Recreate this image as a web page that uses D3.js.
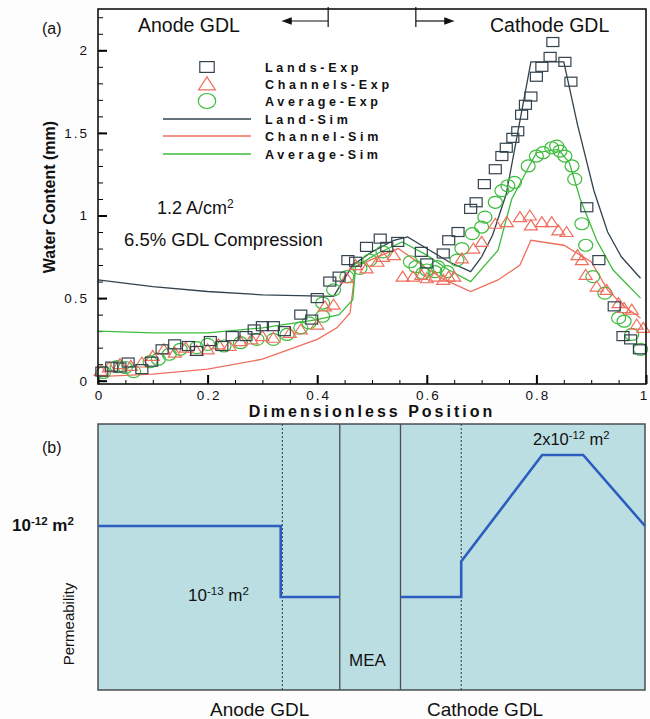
<!DOCTYPE html>
<html>
<head>
<meta charset="utf-8">
<script src="https://cdnjs.cloudflare.com/ajax/libs/d3/7.8.5/d3.min.js"></script>
<style>
  body { margin: 0; background: #fdfdfd; }
  text { font-family: "Liberation Sans", Arial, sans-serif; fill: #111; }
</style>
</head>
<body>
<div id="chart"></div>
<script>
// ---- data, panel (a) : water content vs dimensionless position ----
var landsExp = [[0.007,0.055],[0.025,0.085],[0.04,0.08],[0.055,0.11],[0.08,0.07],[0.098,0.115],
  [0.117,0.19],[0.14,0.22],[0.165,0.21],[0.18,0.18],[0.205,0.24],[0.226,0.21],[0.245,0.27],
  [0.27,0.27],[0.285,0.31],[0.30,0.33],[0.32,0.33],[0.34,0.30],[0.37,0.40],[0.39,0.37],[0.40,0.50],
  [0.423,0.60],[0.44,0.63],[0.456,0.73],[0.47,0.72],[0.49,0.81],[0.515,0.86],[0.527,0.81],
  [0.547,0.84],[0.59,0.78],[0.60,0.71],[0.63,0.77],[0.64,0.85],[0.657,0.90],[0.68,1.04],
  [0.69,1.08],[0.705,1.19],[0.725,1.28],[0.737,1.36],[0.745,1.41],[0.757,1.47],[0.766,1.51],
  [0.773,1.61],[0.78,1.67],[0.79,1.72],[0.80,1.84],[0.81,1.90],[0.825,1.96],[0.83,2.05],
  [0.852,1.93],[0.863,1.81],[0.892,1.05],[0.914,0.73],[0.942,0.45],[0.958,0.27],[0.972,0.25],
  [0.988,0.19]];

var channelsExp = [[0.005,0.06],[0.02,0.08],[0.04,0.10],[0.06,0.09],[0.08,0.11],[0.10,0.15],
  [0.12,0.19],[0.14,0.17],[0.16,0.20],[0.18,0.18],[0.20,0.19],[0.22,0.22],[0.24,0.21],[0.26,0.24],
  [0.28,0.25],[0.30,0.27],[0.32,0.26],[0.35,0.29],[0.37,0.31],[0.40,0.34],[0.414,0.45],[0.43,0.46],
  [0.454,0.62],[0.47,0.70],[0.49,0.68],[0.51,0.72],[0.52,0.75],[0.54,0.76],[0.556,0.63],
  [0.575,0.63],[0.59,0.64],[0.60,0.62],[0.615,0.63],[0.63,0.61],[0.64,0.63],[0.65,0.63],
  [0.664,0.74],[0.685,0.80],[0.70,0.84],[0.725,0.95],[0.746,0.96],[0.77,0.99],[0.788,1.0],
  [0.79,0.94],[0.81,0.96],[0.828,0.96],[0.84,0.91],[0.855,0.90],[0.875,0.76],[0.883,0.73],
  [0.89,0.64],[0.91,0.57],[0.928,0.55],[0.95,0.47],[0.96,0.44],[0.974,0.43],[0.983,0.34],
  [0.995,0.32]];

var averageExp = [[0.01,0.05],[0.035,0.085],[0.05,0.08],[0.065,0.055],[0.095,0.115],[0.11,0.13],
  [0.13,0.16],[0.15,0.19],[0.18,0.20],[0.20,0.22],[0.23,0.21],[0.26,0.23],[0.29,0.25],[0.32,0.25],
  [0.345,0.28],[0.37,0.32],[0.385,0.35],[0.41,0.39],[0.41,0.47],[0.43,0.55],[0.454,0.63],
  [0.478,0.68],[0.496,0.73],[0.52,0.78],[0.57,0.72],[0.58,0.69],[0.593,0.65],[0.60,0.67],
  [0.615,0.66],[0.62,0.69],[0.637,0.66],[0.655,0.73],[0.664,0.80],[0.683,0.89],[0.70,0.93],
  [0.706,0.99],[0.725,1.08],[0.737,1.15],[0.748,1.18],[0.76,1.20],[0.785,1.30],[0.80,1.36],
  [0.812,1.38],[0.828,1.41],[0.837,1.42],[0.843,1.39],[0.852,1.36],[0.865,1.30],[0.87,1.22],
  [0.883,0.95],[0.89,0.82],[0.903,0.63],[0.925,0.53],[0.95,0.38],[0.96,0.36],[0.974,0.28],
  [0.99,0.19]];

var landSim = [[0,0.61],[0.1,0.57],[0.2,0.54],[0.3,0.52],[0.43,0.51],[0.465,0.70],[0.5,0.78],
  [0.54,0.85],[0.565,0.87],[0.6,0.80],[0.64,0.72],[0.68,0.66],[0.70,0.75],[0.72,0.88],
  [0.745,1.13],[0.79,1.93],[0.85,1.93],[0.875,1.55],[0.905,1.15],[0.93,0.90],[0.955,0.75],[0.99,0.62]];

var channelSim = [[0,0.025],[0.1,0.04],[0.2,0.07],[0.3,0.13],[0.4,0.25],[0.436,0.32],[0.46,0.41],
  [0.47,0.69],[0.51,0.75],[0.548,0.80],[0.6,0.68],[0.633,0.61],[0.68,0.54],[0.73,0.61],
  [0.77,0.70],[0.79,0.85],[0.85,0.82],[0.90,0.72],[0.93,0.55],[0.96,0.45],[0.99,0.38]];

var averageSim = [[0,0.30],[0.1,0.29],[0.2,0.29],[0.3,0.32],[0.4,0.37],[0.44,0.40],[0.465,0.49],
  [0.47,0.69],[0.51,0.77],[0.555,0.84],[0.6,0.76],[0.64,0.67],[0.68,0.60],[0.73,0.79],
  [0.755,1.10],[0.80,1.38],[0.84,1.40],[0.86,1.32],[0.88,1.10],[0.91,0.85],[0.94,0.67],[0.99,0.50]];

var xTicks = [0, 0.2, 0.4, 0.6, 0.8, 1];
var yTicks = [0, 0.5, 1, 1.5, 2];
var legendLabels = ["Lands-Exp", "Channels-Exp", "Average-Exp", "Land-Sim", "Channel-Sim", "Average-Sim"];
var gdlEdges = [0.42, 0.58];   // |<- and ->| markers at top

// ---- data, panel (b) : permeability profile (units of 1e-12 m2) ----
var anodePerm = [[0,1],[0.334,1],[0.334,0.1],[0.442,0.1]];
var cathodePerm = [[0.553,0.1],[0.664,0.1],[0.664,0.55],[0.812,2],[0.887,2],[1,1]];
var dashedBounds = [0.337, 0.664];
var meaBounds = [0.442, 0.553];

var colLand = "#33434e", colChan = "#ef6e5e", colAvg = "#3cbc3c";

var svg = d3.select("#chart").append("svg")
  .attr("width", 650).attr("height", 719);

// ================= panel (a) =================
var x = d3.scaleLinear().domain([0, 1]).range([98, 646]);
var y = d3.scaleLinear().domain([-0.02, 2.25]).range([384, 9]);

svg.append("rect").attr("x", 98).attr("y", 9).attr("width", 548).attr("height", 375)
  .attr("fill", "#fff");

// minor ticks
svg.append("g").attr("transform", "translate(0,384)")
  .call(d3.axisBottom(x).tickValues(d3.range(0, 1.001, 0.05)).tickSize(-4).tickFormat(""))
  .call(function(g){ g.select(".domain").remove(); g.selectAll("line").attr("stroke-width", 1); });
svg.append("g").attr("transform", "translate(98,0)")
  .call(d3.axisLeft(y).tickValues(d3.range(0, 2.21, 0.1)).tickSize(-5).tickFormat(""))
  .call(function(g){ g.select(".domain").remove(); g.selectAll("line").attr("stroke-width", 1); });

// major ticks + labels
var xAxis = svg.append("g").attr("transform", "translate(0,384)")
  .call(d3.axisBottom(x).tickValues(xTicks).tickSize(-9).tickPadding(6).tickFormat(d3.format("~g")));
xAxis.select(".domain").remove();
xAxis.selectAll("line").attr("stroke-width", 2);
xAxis.selectAll("text").style("font-size", "13.5px").style("letter-spacing", "2px")
  .attr("dx", function(d){ return d === 1 ? "-2px" : "1px"; }).attr("fill", "#222");

var yAxis = svg.append("g").attr("transform", "translate(98,0)")
  .call(d3.axisLeft(y).tickValues(yTicks).tickSize(-9).tickPadding(9).tickFormat(d3.format("~g")));
yAxis.select(".domain").remove();
yAxis.selectAll("line").attr("stroke-width", 2);
yAxis.selectAll("text").style("font-size", "13.5px").style("letter-spacing", "2px").attr("fill", "#222");

// simulation lines
var line = d3.line().x(function(d){ return x(d[0]); }).y(function(d){ return y(d[1]); });
[[landSim, colLand], [channelSim, colChan], [averageSim, colAvg]].forEach(function(s){
  svg.append("path").attr("d", line(s[0])).attr("fill", "none")
    .attr("stroke", s[1]).attr("stroke-width", 1.3);
});

// marker helpers
function square(g, cx, cy, k) {
  g.append("rect").attr("x", cx - 6*k).attr("y", cy - 4.5*k).attr("width", 12*k).attr("height", 9*k)
    .attr("fill", "none").attr("stroke", colLand).attr("stroke-width", 1.2);
}
function triangle(g, cx, cy, k) {
  g.append("path").attr("d", "M" + cx + "," + (cy - 5.5*k) + "L" + (cx + 6.5*k) + "," + (cy + 4.5*k) +
      "L" + (cx - 6.5*k) + "," + (cy + 4.5*k) + "Z")
    .attr("fill", "none").attr("stroke", colChan).attr("stroke-width", 1.2);
}
function ellipse(g, cx, cy, k) {
  g.append("ellipse").attr("cx", cx).attr("cy", cy).attr("rx", 7*k).attr("ry", 6*k)
    .attr("fill", "none").attr("stroke", colAvg).attr("stroke-width", 1.2);
}

var marks = svg.append("g");
averageExp.forEach(function(d){ ellipse(marks, x(d[0]), y(d[1]), 1); });
channelsExp.forEach(function(d){ triangle(marks, x(d[0]), y(d[1]), 1); });
landsExp.forEach(function(d){ square(marks, x(d[0]), y(d[1]), 1); });

// frame
svg.append("rect").attr("x", 98).attr("y", 9).attr("width", 548).attr("height", 375)
  .attr("fill", "none").attr("stroke", "#111").attr("stroke-width", 1.6);

// legend
var legRows = [67, 84, 101, 119, 136, 154];
var leg = svg.append("g");
square(leg, 207, legRows[0], 1.2);
triangle(leg, 207, legRows[1], 1.3);
ellipse(leg, 207, legRows[2], 1.25);
[colLand, colChan, colAvg].forEach(function(c, i){
  leg.append("line").attr("x1", 163).attr("x2", 251).attr("y1", legRows[3+i]).attr("y2", legRows[3+i])
    .attr("stroke", c).attr("stroke-width", 1.3);
});
legendLabels.forEach(function(t, i){
  leg.append("text").attr("x", 265).attr("y", legRows[i] + 4.5).text(t)
    .style("font-size", "12.5px").style("font-weight", "bold").style("letter-spacing", "3.7px");
});

// annotations
svg.append("text").attr("x", 42).attr("y", 34).text("(a)").style("font-size", "16px");
svg.append("text").attr("x", 138).attr("y", 32).text("Anode GDL").style("font-size", "19.5px");
svg.append("text").attr("x", 490).attr("y", 32).text("Cathode GDL").style("font-size", "19.5px");

var arr = svg.append("g").attr("stroke", "#111").attr("stroke-width", 1.2);
arr.append("line").attr("x1", x(gdlEdges[0])).attr("x2", x(gdlEdges[0])).attr("y1", 7).attr("y2", 27);
arr.append("line").attr("x1", x(gdlEdges[0])).attr("x2", x(gdlEdges[0]) - 38).attr("y1", 21).attr("y2", 21);
arr.append("path").attr("d", "M" + (x(gdlEdges[0]) - 45) + ",21l8,-3l0,6z").attr("fill", "#111");
arr.append("line").attr("x1", x(gdlEdges[1])).attr("x2", x(gdlEdges[1])).attr("y1", 7).attr("y2", 27);
arr.append("line").attr("x1", x(gdlEdges[1])).attr("x2", x(gdlEdges[1]) + 30).attr("y1", 21).attr("y2", 21);
arr.append("path").attr("d", "M" + (x(gdlEdges[1]) + 37) + ",21l-8,-3l0,6z").attr("fill", "#111");

var t1 = svg.append("text").attr("x", 157).attr("y", 214).style("font-size", "18px");
t1.append("tspan").text("1.2 A/cm");
t1.append("tspan").text("2").attr("dy", -6).style("font-size", "12px");
svg.append("text").attr("x", 124).attr("y", 246).text("6.5% GDL Compression").style("font-size", "18.5px");

svg.append("text").attr("transform", "translate(55,197) rotate(-90)").attr("text-anchor", "middle")
  .text("Water Content (mm)").style("font-size", "16px").style("font-weight", "bold");
svg.append("text").attr("x", 372).attr("y", 417).attr("text-anchor", "middle")
  .text("Dimensionless Position").style("font-size", "16px").style("font-weight", "bold")
  .style("letter-spacing", "3px");

// ================= panel (b) =================
var xb = d3.scaleLinear().domain([0, 1]).range([98, 645]);
var yb = d3.scaleLinear().domain([0.1, 1, 2]).range([597, 526, 455]);

svg.append("rect").attr("x", 98).attr("y", 424).attr("width", 547).attr("height", 266)
  .attr("fill", "#badee2").attr("stroke", "#4a4f52").attr("stroke-width", 1.5);

dashedBounds.forEach(function(v){
  svg.append("line").attr("x1", xb(v)).attr("x2", xb(v)).attr("y1", 424).attr("y2", 690)
    .attr("stroke", "#333").attr("stroke-width", 1).attr("stroke-dasharray", "2,2");
});
meaBounds.forEach(function(v){
  svg.append("line").attr("x1", xb(v)).attr("x2", xb(v)).attr("y1", 424).attr("y2", 690)
    .attr("stroke", "#4a4f52").attr("stroke-width", 1.3);
});

var lineB = d3.line().x(function(d){ return xb(d[0]); }).y(function(d){ return yb(d[1]); });
[anodePerm, cathodePerm].forEach(function(p){
  svg.append("path").attr("d", lineB(p)).attr("fill", "none")
    .attr("stroke", "#2c5dbf").attr("stroke-width", 2.6);
});

function powLabel(px, py, base, exp, size, bold) {
  var t = svg.append("text").attr("x", px).attr("y", py).style("font-size", size + "px");
  if (bold) t.style("font-weight", "bold");
  t.append("tspan").text(base);
  t.append("tspan").text(exp).attr("dy", -6).style("font-size", (size * 0.68) + "px");
  t.append("tspan").text(" m").attr("dy", 6);
  t.append("tspan").text("2").attr("dy", -6).style("font-size", (size * 0.68) + "px");
  return t;
}
powLabel(12, 531, "10", "-12", 17, true);
powLabel(188, 601, "10", "-13", 17, false);
powLabel(533, 445, "2x10", "-12", 16.5, false);

svg.append("text").attr("x", 349).attr("y", 666).text("MEA").style("font-size", "17px");
svg.append("text").attr("x", 42).attr("y", 453).text("(b)").style("font-size", "16px");
svg.append("text").attr("transform", "translate(74,624) rotate(-90)").attr("text-anchor", "middle")
  .text("Permeability").style("font-size", "15px");
svg.append("text").attr("x", 210).attr("y", 716).text("Anode GDL").style("font-size", "19px");
svg.append("text").attr("x", 427).attr("y", 716).text("Cathode GDL").style("font-size", "19px");
</script>
</body>
</html>
